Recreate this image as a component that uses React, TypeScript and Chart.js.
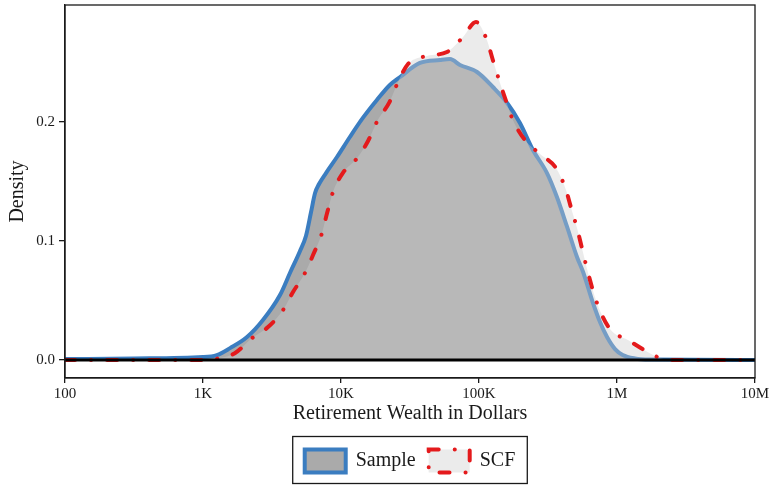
import { useEffect, useRef } from "react"
import { Chart, registerables } from "chart.js"

Chart.register(...registerables)

// Sample KDE: wealth in dollars vs density
const sampleWealth = [
  100, 316, 1000, 1260, 1570, 2085, 2720, 3614, 4266, 5047, 5572, 6067, 6486, 6934, 7786, 9354, 11600,
  14400, 18200, 22600, 26800, 37300, 52100, 61700, 72800, 96800, 126000, 160000, 198000, 246000, 311000,
  367000, 435000, 513000, 568000, 670000, 753000, 847000, 968000, 1100000, 1350000, 1730000, 10000000,
]
const sampleDensity = [
  0.0008, 0.0013, 0.0025, 0.0042, 0.01, 0.0193, 0.0336, 0.0546, 0.0731, 0.0916, 0.1042, 0.1244, 0.1403,
  0.1479, 0.1571, 0.1706, 0.1874, 0.2034, 0.2185, 0.2311, 0.2378, 0.2496, 0.2521, 0.2529, 0.2479, 0.242,
  0.2294, 0.216, 0.1992, 0.1765, 0.1571, 0.137, 0.1118, 0.0866, 0.074, 0.0479, 0.0319, 0.0193, 0.0092,
  0.0042, 0.0013, 0.0004, 0,
]

// SCF KDE
const scfWealth = [
  100, 1000, 1330, 1710, 2270, 2960, 3800, 4490, 5480, 6270, 7280, 7930, 8750, 10300, 13100, 15700, 18500,
  22300, 25900, 30600, 42000, 58600, 76600, 95100, 114000, 126000, 142000, 157000, 176000, 215000,
  277000, 361000, 427000, 465000, 513000, 557000, 617000, 716000, 889000, 1200000, 1620000, 2050000,
  2550000, 10000000,
]
const scfDensity = [
  0, 0, 0.0017, 0.0059, 0.0185, 0.0277, 0.042, 0.0571, 0.0731, 0.0882, 0.1067, 0.1235, 0.1412, 0.1571,
  0.1697, 0.184, 0.2017, 0.216, 0.2336, 0.2487, 0.2555, 0.2588, 0.2714, 0.284, 0.2689, 0.2521, 0.2328,
  0.2176, 0.2017, 0.1849, 0.1731, 0.1613, 0.1429, 0.1277, 0.1109, 0.0941, 0.0731, 0.0479, 0.0261,
  0.0168, 0.0076, 0.0017, 0, 0,
]

const zeroWealth = [100, 10000000]
const zeroDensity = [0, 0]

const xTickValues = [100, 1000, 10000, 100000, 1000000, 10000000]
const xTickLabels = ["100", "1K", "10K", "100K", "1M", "10M"]
const yTickValues = [0, 0.1, 0.2]

const SERIF = "'Liberation Serif', 'Times New Roman', serif"
const INK = "#1a1a1a"

const toPoints = (xs: number[], ys: number[]) => xs.map((x, i) => ({ x, y: ys[i] }))

// plot frame + box around the legend
const framePlugin = {
  id: "frames",
  afterDraw(chart: any) {
    const { ctx, chartArea, legend } = chart
    ctx.save()
    ctx.strokeStyle = INK
    ctx.lineWidth = 1.3
    ctx.strokeRect(chartArea.left, chartArea.top, chartArea.right - chartArea.left, chartArea.bottom - chartArea.top)
    const boxes = legend?.legendHitBoxes as { left: number; top: number; width: number; height: number }[]
    if (boxes && boxes.length) {
      const left = Math.min(...boxes.map((b) => b.left))
      const right = Math.max(...boxes.map((b) => b.left + b.width))
      const top = Math.min(...boxes.map((b) => b.top))
      const bottom = Math.max(...boxes.map((b) => b.top + b.height))
      ctx.strokeRect(left - 12, top - 13, right - left + 24, bottom - top + 24)
    }
    ctx.restore()
  },
}

export default function App() {
  const canvasRef = useRef<HTMLCanvasElement>(null)

  useEffect(() => {
    if (!canvasRef.current) return

    const chart = new Chart(canvasRef.current, {
      type: "line",
      data: {
        datasets: [
          {
            label: "Sample",
            data: toPoints(sampleWealth, sampleDensity),
            borderColor: "#3b7dc0",
            backgroundColor: "#aaaaaa",
            borderWidth: 4,
            fill: "origin",
            pointRadius: 0,
            cubicInterpolationMode: "monotone",
            order: 2,
          },
          {
            label: "SCF",
            data: toPoints(scfWealth, scfDensity),
            borderColor: "#e41a1c",
            backgroundColor: "rgba(205, 205, 205, 0.4)",
            borderWidth: 4,
            borderDash: [10, 16, 0.1, 16],
            borderCapStyle: "round",
            fill: "origin",
            pointRadius: 0,
            cubicInterpolationMode: "monotone",
            order: 1,
          },
          {
            label: "zero",
            data: toPoints(zeroWealth, zeroDensity),
            borderColor: "#000",
            borderWidth: 3,
            fill: false,
            pointRadius: 0,
            order: 0,
          },
        ],
      },
      options: {
        responsive: true,
        maintainAspectRatio: false,
        animation: false,
        layout: { padding: { top: 5, right: 15, bottom: 4.5, left: 0 } },
        font: { family: SERIF },
        scales: {
          x: {
            type: "logarithmic",
            min: 100,
            max: 10000000,
            afterBuildTicks: (scale: any) => {
              scale.ticks = xTickValues.map((value) => ({ value }))
            },
            afterFit: (scale: any) => {
              scale.height = 58.5
              scale.paddingLeft = 0
              scale.paddingRight = 0
            },
            ticks: {
              autoSkip: false,
              maxRotation: 0,
              padding: 2,
              color: INK,
              font: { family: SERIF, size: 15 },
              callback: (_value: any, index: number) => xTickLabels[index],
            },
            grid: { drawOnChartArea: false, tickLength: 5, color: INK, lineWidth: 1.3 },
            border: { color: INK, width: 1.3 },
            title: {
              display: true,
              text: "Retirement Wealth in Dollars",
              color: INK,
              font: { family: SERIF, size: 20 },
              padding: { top: 4, bottom: 10.5 },
            },
          },
          y: {
            min: -0.0151,
            max: 0.2983,
            afterBuildTicks: (scale: any) => {
              scale.ticks = yTickValues.map((value) => ({ value }))
            },
            afterFit: (scale: any) => {
              scale.width = 65
              scale.paddingTop = 0
              scale.paddingBottom = 0
            },
            ticks: {
              padding: 4,
              color: INK,
              font: { family: SERIF, size: 15 },
              callback: (value: any) => Number(value).toFixed(1),
            },
            grid: { drawOnChartArea: false, tickLength: 6, color: INK, lineWidth: 1.3 },
            border: { color: INK, width: 1.3 },
            title: {
              display: true,
              text: "Density",
              color: INK,
              font: { family: SERIF, size: 20 },
              padding: { top: 6, bottom: 0 },
            },
          },
        },
        plugins: {
          filler: { drawTime: "beforeDatasetDraw" },
          tooltip: { enabled: false },
          legend: {
            display: true,
            position: "bottom",
            fullSize: false,
            labels: {
              boxWidth: 41,
              boxHeight: 23,
              padding: 13,
              color: INK,
              font: { family: SERIF, size: 20 },
              filter: (item: any) => item.datasetIndex !== 2,
              sort: (a: any, b: any) => a.datasetIndex - b.datasetIndex,
            },
          },
        },
      } as any,
      plugins: [framePlugin],
    })

    return () => {
      chart.destroy()
    }
  }, [])

  return (
    <div style={{ position: "fixed", left: 0, top: 0, width: 770, height: 487, background: "#fff" }}>
      <canvas ref={canvasRef} />
    </div>
  )
}
